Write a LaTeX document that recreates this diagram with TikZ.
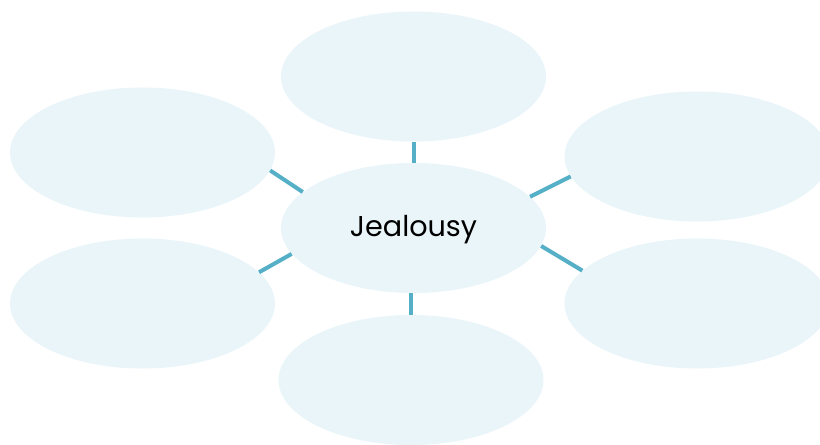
\documentclass[tikz,border=0pt]{standalone}
\usepackage{fontspec}
\setmainfont{Poppins}
\usetikzlibrary{shapes.geometric}
\definecolor{bubble}{HTML}{EAF5F9}
\definecolor{link}{HTML}{55AFC7}
\tikzset{
  bubble/.style={ellipse, fill=bubble, draw=none, inner sep=0pt,
    minimum width=198.75pt, minimum height=97.5pt},
  link/.style={draw=link, line width=3pt}
}
\begin{document}
\begin{tikzpicture}[x=0.75pt, y=-0.75pt]
  \clip (0,0) rectangle (820,445);
  \useasboundingbox (0,0) rectangle (820,445);
  % bubbles
  \node[bubble, text height=15pt, text depth=1.5pt, font=\fontsize{21.5pt}{24pt}\selectfont]
    (c) at (413.5,228) {Jealousy};
  \node[bubble] (t)  at (413.5,76.5)  {};
  \node[bubble] (tl) at (142.5,152.5) {};
  \node[bubble] (tr) at (697,156.5)   {};
  \node[bubble] (bl) at (142.5,303.5) {};
  \node[bubble] (br) at (697,303.5)   {};
  \node[bubble] (b)  at (411,380)     {};
  % connectors
  \draw[link] (t) -- (c);
  \draw[link] (c.south -| b) -- (b);
  \draw[link] (c.162) -- (tl.352);
  \draw[link] (c.192) -- (bl.15);
  \draw[link] (c.15) -- (tr.189);
  \draw[link] (c.352) -- (br.164);
\end{tikzpicture}
\end{document}
